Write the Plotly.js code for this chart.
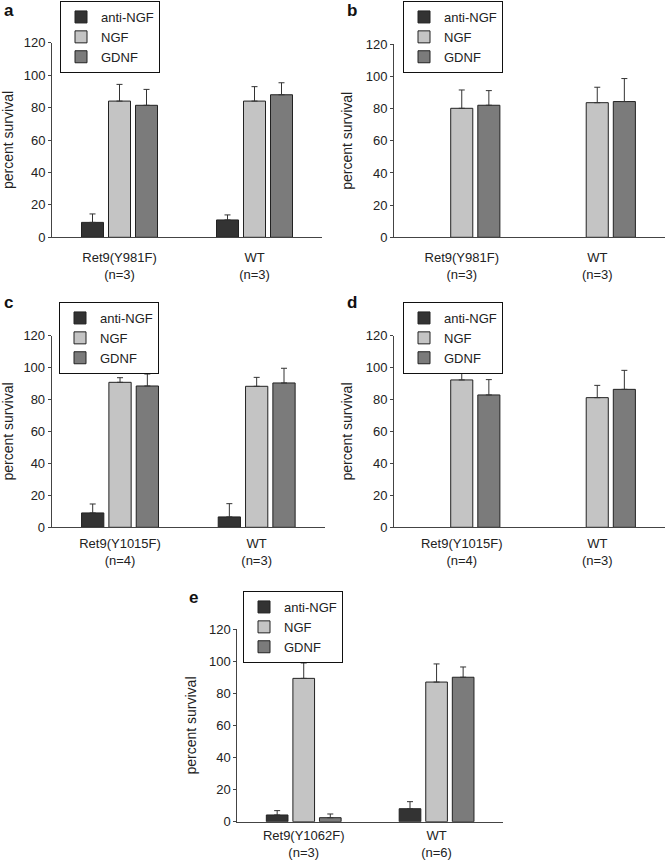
<!DOCTYPE html>
<html>
<head>
<meta charset="utf-8">
<script src="https://cdn.plot.ly/plotly-3.0.1.min.js"></script>
<style>html,body{margin:0;padding:0;background:#fff;}#chart{width:666px;height:862px;}</style>
</head>
<body>
<div id="chart"></div>
<script>
// ---- data ----
const treatments = ['anti-NGF', 'NGF', 'GDNF'];
const panelLetters = ['a', 'b', 'c', 'd', 'e'];

const catsA = ['Ret9(Y981F)<br>(n=3)', 'WT<br>(n=3)'];
const antiA = [9.2, 10.7];   const antiErrA = [5.2, 3.1];
const ngfA  = [84.0, 84.0];  const ngfErrA  = [10.3, 8.9];
const gdnfA = [81.4, 87.9];  const gdnfErrA = [9.8, 7.4];

const catsB = ['Ret9(Y981F)<br>(n=3)', 'WT<br>(n=3)'];
const antiB = [null, null];  const antiErrB = [0, 0];
const ngfB  = [80.2, 83.7];  const ngfErrB  = [11.4, 9.6];
const gdnfB = [82.1, 84.4];  const gdnfErrB = [9.1, 14.3];

const catsC = ['Ret9(Y1015F)<br>(n=4)', 'WT<br>(n=3)'];
const antiC = [9.0, 6.5];    const antiErrC = [5.6, 8.3];
const ngfC  = [90.8, 88.3];  const ngfErrC  = [2.9, 5.6];
const gdnfC = [88.5, 90.4];  const gdnfErrC = [7.5, 9.2];

const catsD = ['Ret9(Y1015F)<br>(n=4)', 'WT<br>(n=3)'];
const antiD = [null, null];  const antiErrD = [0, 0];
const ngfD  = [92.3, 81.2];  const ngfErrD  = [9.8, 7.7];
const gdnfD = [82.9, 86.4];  const gdnfErrD = [9.6, 11.9];

const catsE = ['Ret9(Y1062F)<br>(n=3)', 'WT<br>(n=6)'];
const antiE = [4.2, 8.1];    const antiErrE = [2.7, 4.4];
const ngfE  = [89.4, 87.1];  const ngfErrE  = [9.6, 11.3];
const gdnfE = [2.5, 90.1];   const gdnfErrE = [2.3, 6.4];

// ---- styling / layout ----
const colors = ['#333333', '#c4c4c4', '#7b7b7b'];
const FONT = '"Liberation Sans", Arial, sans-serif';
const W = 666, H = 862;

const panels = [
  {cats: catsA, vals: [antiA, ngfA, gdnfA], errs: [antiErrA, ngfErrA, gdnfErrA],
   x: [52, 322], y0: 237.3, y120: 42.7, leg: [60, 1], lab: [2, 10], so: 8},
  {cats: catsB, vals: [antiB, ngfB, gdnfB], errs: [antiErrB, ngfErrB, gdnfErrB],
   x: [394, 665], y0: 237.3, y120: 44.3, leg: [403, 1], lab: [345, 11], so: 8},
  {cats: catsC, vals: [antiC, ngfC, gdnfC], errs: [antiErrC, ngfErrC, gdnfErrC],
   x: [51.7, 325], y0: 527.3, y120: 335.7, leg: [59, 302], lab: [2, 302], so: 4},
  {cats: catsD, vals: [antiD, ngfD, gdnfD], errs: [antiErrD, ngfErrD, gdnfErrD],
   x: [394, 665], y0: 527.3, y120: 335.7, leg: [403, 302], lab: [345, 302], so: 4},
  {cats: catsE, vals: [antiE, ngfE, gdnfE], errs: [antiErrE, ngfErrE, gdnfErrE],
   x: [237.3, 503], y0: 821.7, y120: 629.3, leg: [243, 591], lab: [187, 597], so: 2}
];

const traces = [];
const layout = {
  width: W, height: H,
  margin: {l: 0, r: 0, t: 0, b: 0},
  paper_bgcolor: '#ffffff', plot_bgcolor: '#ffffff',
  font: {family: FONT, size: 13, color: '#222222'},
  barmode: 'group', bargap: 0.4, bargroupgap: 0.185,
  showlegend: true,
  annotations: []
};

panels.forEach((p, i) => {
  const n = i + 1;
  const xa = n === 1 ? 'x' : 'x' + n;
  const ya = n === 1 ? 'y' : 'y' + n;
  const legName = n === 1 ? 'legend' : 'legend' + n;
  treatments.forEach((t, k) => {
    traces.push({
      type: 'bar', name: t, x: p.cats, y: p.vals[k],
      xaxis: xa, yaxis: ya, legend: legName,
      marker: {color: colors[k], line: {color: '#222222', width: 1}},
      error_y: {type: 'data', symmetric: false, array: p.errs[k],
                arrayminus: p.errs[k].map(() => 0),
                color: '#333333', thickness: 1, width: 3, visible: true},
      hoverinfo: 'skip'
    });
  });
  const xKey = n === 1 ? 'xaxis' : 'xaxis' + n;
  const yKey = n === 1 ? 'yaxis' : 'yaxis' + n;
  layout[xKey] = {
    domain: [p.x[0] / W, p.x[1] / W], anchor: ya,
    type: 'category', range: [-0.5, 1.5],
    showline: true, linecolor: '#444444', linewidth: 1,
    ticks: '', showgrid: false, zeroline: false, ticklabelstandoff: p.so,
    tickfont: {family: FONT, size: 13, color: '#222222'}, fixedrange: true
  };
  layout[yKey] = {
    domain: [1 - p.y0 / H, 1 - p.y120 / H], anchor: xa,
    range: [0, 120], dtick: 20, tick0: 0,
    showline: true, linecolor: '#444444', linewidth: 1,
    ticks: 'outside', ticklen: 3, tickcolor: '#444444',
    showgrid: false, zeroline: false,
    tickfont: {family: FONT, size: 13, color: '#222222'},
    title: {text: 'percent survival', font: {family: FONT, size: 14, color: '#222222'}, standoff: 9},
    fixedrange: true
  };
  layout[legName] = {
    x: p.leg[0] / W, y: 1 - p.leg[1] / H, xanchor: 'left', yanchor: 'top',
    xref: 'paper', yref: 'paper',
    bgcolor: '#ffffff', bordercolor: '#111111', borderwidth: 1,
    font: {family: FONT, size: 13, color: '#222222'},
    tracegroupgap: 0, traceorder: 'normal', itemwidth: 30
  };
  layout.annotations.push({
    text: '<b>' + panelLetters[i] + '</b>', xref: 'paper', yref: 'paper',
    x: p.lab[0] / W, y: 1 - p.lab[1] / H, xanchor: 'left', yanchor: 'middle',
    showarrow: false, font: {family: FONT, size: 17, color: '#111111'}
  });
});

Plotly.newPlot('chart', traces, layout, {staticPlot: true, displayModeBar: false});
</script>
</body>
</html>
